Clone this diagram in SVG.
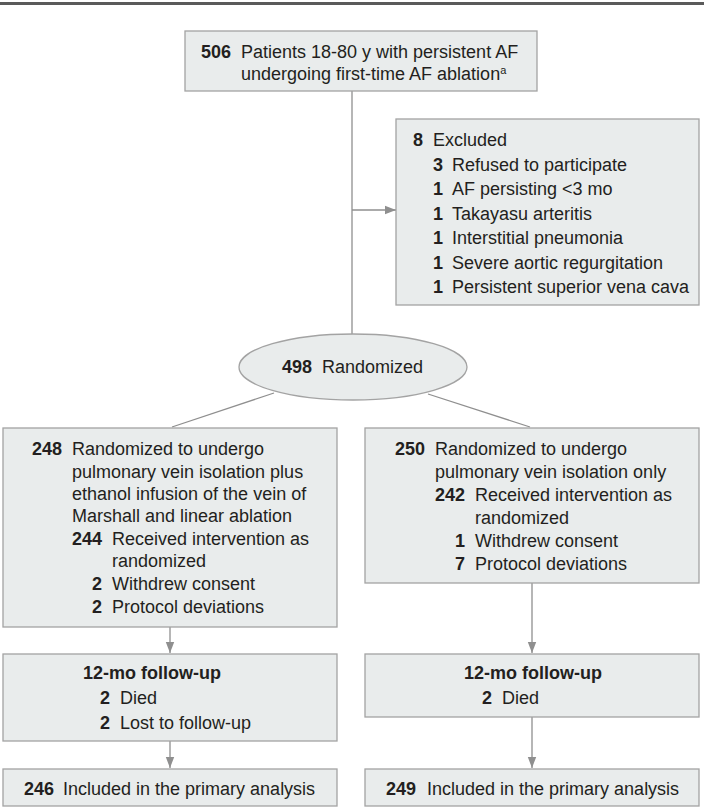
<svg xmlns="http://www.w3.org/2000/svg" width="704" height="807" viewBox="0 0 704 807">
<defs>
<style>
.box{fill:#e9ecec;stroke:#a3a3a3;stroke-width:1.3}
.ln{stroke:#8f8f8f;stroke-width:1.3;fill:none}
text{font-family:"Liberation Sans",Arial,sans-serif;font-size:18px;fill:#231f20}
.b{font-weight:bold}
.n{font-weight:bold;text-anchor:end}
</style>
<marker id="ah" markerUnits="userSpaceOnUse" markerWidth="12" markerHeight="10" viewBox="0 0 12 10" refX="11" refY="5" orient="auto">
<path d="M0,0.8 L11,5 L0,9.2 Z" fill="#8f8f8f"/>
</marker>
</defs>
<rect width="704" height="807" fill="#ffffff"/>
<rect x="0" y="2" width="704" height="3" fill="#5a5a5a"/>

<g id="connectors">
<line class="ln" x1="352" y1="91" x2="352" y2="335"/>
<line class="ln" x1="352" y1="210" x2="396" y2="210" marker-end="url(#ah)"/>
<line class="ln" x1="274" y1="393" x2="172" y2="427"/>
<line class="ln" x1="428" y1="394" x2="530" y2="427"/>
<line class="ln" x1="170" y1="627" x2="170" y2="653" marker-end="url(#ah)"/>
<line class="ln" x1="170" y1="741" x2="170" y2="768" marker-end="url(#ah)"/>
<line class="ln" x1="532" y1="583" x2="532" y2="653" marker-end="url(#ah)"/>
<line class="ln" x1="532" y1="717" x2="532" y2="768" marker-end="url(#ah)"/>
</g>

<g id="enrolled">
<rect class="box" x="185" y="31" width="352" height="60"/>
<text class="n" x="231" y="58">506</text>
<text x="241" y="58">Patients 18-80 y with persistent AF</text>
<text x="241" y="80">undergoing first-time AF ablation<tspan font-size="11" dy="-6">a</tspan></text>
</g>

<g id="excluded">
<rect class="box" x="396" y="119" width="303" height="186"/>
<text class="n" x="423" y="146">8</text>
<text x="433" y="146">Excluded</text>
<text class="n" x="443" y="170.5">3</text>
<text x="452" y="170.5">Refused to participate</text>
<text class="n" x="443" y="195">1</text>
<text x="452" y="195">AF persisting &lt;3 mo</text>
<text class="n" x="443" y="219.5">1</text>
<text x="452" y="219.5">Takayasu arteritis</text>
<text class="n" x="443" y="244">1</text>
<text x="452" y="244">Interstitial pneumonia</text>
<text class="n" x="443" y="268.5">1</text>
<text x="452" y="268.5">Severe aortic regurgitation</text>
<text class="n" x="443" y="293">1</text>
<text x="452" y="293">Persistent superior vena cava</text>
</g>

<g id="randomized">
<ellipse class="box" cx="353" cy="367" rx="114" ry="33"/>
<text class="n" x="312" y="373">498</text>
<text x="322" y="373">Randomized</text>
</g>

<g id="arm-pvi-ethanol">
<rect class="box" x="3" y="428" width="334" height="199"/>
<text class="n" x="62" y="455">248</text>
<text x="72" y="455">Randomized to undergo</text>
<text x="72" y="478">pulmonary vein isolation plus</text>
<text x="72" y="500">ethanol infusion of the vein of</text>
<text x="72" y="522">Marshall and linear ablation</text>
<text class="n" x="102" y="545">244</text>
<text x="112" y="545">Received intervention as</text>
<text x="112" y="567">randomized</text>
<text class="n" x="102" y="590">2</text>
<text x="112" y="590">Withdrew consent</text>
<text class="n" x="102" y="613">2</text>
<text x="112" y="613">Protocol deviations</text>
</g>

<g id="arm-pvi-only">
<rect class="box" x="365" y="428" width="334" height="155"/>
<text class="n" x="425" y="455">250</text>
<text x="435" y="455">Randomized to undergo</text>
<text x="435" y="478">pulmonary vein isolation only</text>
<text class="n" x="465" y="501">242</text>
<text x="475" y="501">Received intervention as</text>
<text x="475" y="524">randomized</text>
<text class="n" x="465" y="547">1</text>
<text x="475" y="547">Withdrew consent</text>
<text class="n" x="465" y="570">7</text>
<text x="475" y="570">Protocol deviations</text>
</g>

<g id="followup-left">
<rect class="box" x="3" y="654" width="334" height="87"/>
<text class="b" x="83" y="679">12-mo follow-up</text>
<text class="n" x="110" y="704">2</text>
<text x="120" y="704">Died</text>
<text class="n" x="110" y="729">2</text>
<text x="120" y="729">Lost to follow-up</text>
</g>

<g id="followup-right">
<rect class="box" x="365" y="654" width="334" height="63"/>
<text class="b" x="464" y="679">12-mo follow-up</text>
<text class="n" x="492" y="704">2</text>
<text x="502" y="704">Died</text>
</g>

<g id="analysis-left">
<rect class="box" x="3" y="769" width="334" height="37"/>
<text class="n" x="54" y="795">246</text>
<text x="63" y="795">Included in the primary analysis</text>
</g>

<g id="analysis-right">
<rect class="box" x="365" y="769" width="334" height="37"/>
<text class="n" x="416" y="795">249</text>
<text x="427" y="795">Included in the primary analysis</text>
</g>
</svg>
